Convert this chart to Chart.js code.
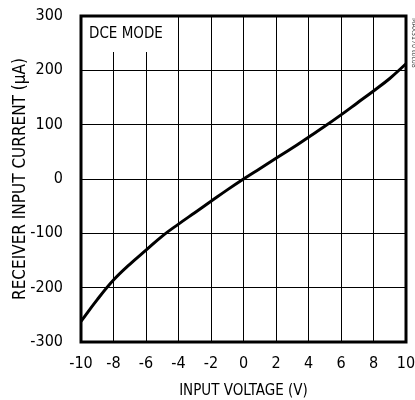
<!DOCTYPE html>
<html>
<head>
<meta charset="utf-8">
<script src="https://cdn.jsdelivr.net/npm/chart.js@4"></script>
<style>
  body { margin: 0; background: #fff; }
  canvas { display: block; }
</style>
</head>
<body>
<canvas id="chart" width="415" height="400"></canvas>
<script>
// Receiver input current vs input voltage (DCE mode)
const voltage = [-10, -9, -8, -7, -6, -5, -4, -3, -2, -1, 0, 1, 2, 3, 4, 5, 6, 7, 8, 9, 10];
const current = [-262, -222, -186, -157, -131, -105, -83, -62, -41, -20, 0, 19, 38, 57, 77, 97, 118, 140, 162, 185, 212];
const xTicks = [-10, -8, -6, -4, -2, 0, 2, 4, 6, 8, 10];
const yTicks = [-300, -200, -100, 0, 100, 200, 300];

const narrow = '"DejaVu Sans Condensed", "Liberation Sans Narrow", sans-serif';

// frame, mode label and side note
const decorations = {
    id: 'decorations',
    afterDraw(chart) {
        const { ctx, chartArea: a } = chart;
        ctx.save();
        // label box over the grid
        ctx.fillStyle = '#fff';
        ctx.fillRect(a.left, a.top, 84, 36);
        ctx.fillStyle = '#000';
        ctx.font = '15px ' + narrow;
        ctx.textBaseline = 'alphabetic';
        ctx.fillText('DCE MODE', a.left + 8, a.top + 22);
        // frame
        ctx.strokeStyle = '#000';
        ctx.lineWidth = 3;
        ctx.strokeRect(a.left, a.top, a.right - a.left, a.bottom - a.top);
        // tiny rotated note
        ctx.translate(a.right + 6, a.top + 2);
        ctx.rotate(Math.PI / 2);
        ctx.font = '7px ' + narrow;
        ctx.fillStyle = '#444';
        ctx.fillText('MAX3170 toc08', 0, 0);
        ctx.restore();
    }
};

const ctx = document.getElementById('chart').getContext('2d');
const chart = new Chart(ctx, {
    type: 'line',
    data: {
        datasets: [{
            data: voltage.map((v, i) => ({ x: v, y: current[i] })),
            borderColor: '#000',
            borderWidth: 3,
            pointRadius: 0,
            tension: 0.4,
            fill: false
        }]
    },
    options: {
        responsive: false,
        animation: false,
        layout: { padding: { top: 16, right: 9, left: 0, bottom: 0 } },
        plugins: {
            legend: { display: false },
            tooltip: { enabled: false }
        },
        scales: {
            x: {
                type: 'linear',
                min: -10,
                max: 10,
                afterBuildTicks: s => { s.ticks = xTicks.map(v => ({ value: v })); },
                afterFit: s => { s.height = 58; s.paddingLeft = 0; s.paddingRight = 0; },
                grid: { color: '#000', lineWidth: 1, drawTicks: false },
                border: { display: false },
                ticks: {
                    color: '#000',
                    padding: 12,
                    font: { family: narrow, size: 16 }
                },
                title: {
                    display: true,
                    text: 'INPUT VOLTAGE (V)',
                    color: '#000',
                    padding: { top: 4, bottom: 0 },
                    font: { family: narrow, size: 15 }
                }
            },
            y: {
                min: -300,
                max: 300,
                afterBuildTicks: s => { s.ticks = yTicks.map(v => ({ value: v })); },
                afterFit: s => { s.width = 81; s.paddingTop = 0; s.paddingBottom = 0; },
                grid: { color: '#000', lineWidth: 1, drawTicks: false },
                border: { display: false },
                ticks: {
                    color: '#000',
                    padding: 18,
                    font: { family: narrow, size: 16 }
                },
                title: {
                    display: true,
                    text: 'RECEIVER INPUT CURRENT (µA)',
                    color: '#000',
                    padding: { top: 10, bottom: 0 },
                    font: { family: narrow, size: 17 }
                }
            }
        }
    },
    plugins: [decorations]
});
</script>
</body>
</html>
